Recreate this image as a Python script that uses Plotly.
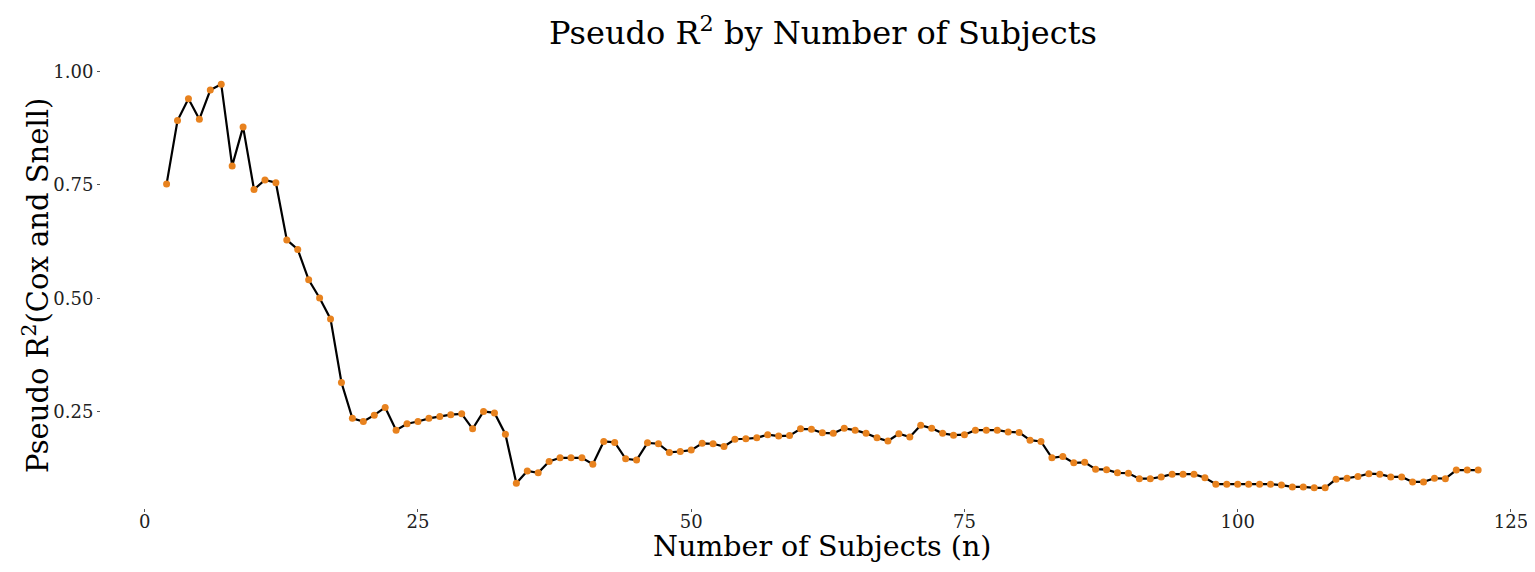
import plotly.graph_objects as go

# number of subjects (n) and pseudo R^2 (Cox and Snell)
n_subjects = list(range(2, 123))
pseudo_r2 = [
    0.752, 0.892, 0.940, 0.895, 0.959, 0.972, 0.792, 0.878, 0.740, 0.761,   # 2-11
    0.755, 0.629, 0.608, 0.541, 0.501, 0.455, 0.315, 0.236, 0.229, 0.243,   # 12-21
    0.260, 0.210, 0.224, 0.229, 0.236, 0.240, 0.244, 0.246, 0.213, 0.251,   # 22-31
    0.248, 0.201, 0.093, 0.120, 0.116, 0.141, 0.149, 0.149, 0.149, 0.135,   # 32-41
    0.185, 0.183, 0.147, 0.144, 0.182, 0.180, 0.161, 0.163, 0.166, 0.181,   # 42-51
    0.180, 0.174, 0.190, 0.191, 0.193, 0.200, 0.197, 0.198, 0.213, 0.212,   # 52-61
    0.204, 0.203, 0.214, 0.210, 0.203, 0.193, 0.186, 0.202, 0.195, 0.221,   # 62-71
    0.214, 0.203, 0.199, 0.200, 0.210, 0.210, 0.210, 0.206, 0.205, 0.188,   # 72-81
    0.185, 0.149, 0.152, 0.138, 0.139, 0.124, 0.123, 0.116, 0.115, 0.103,   # 82-91
    0.103, 0.107, 0.113, 0.113, 0.113, 0.105, 0.091, 0.091, 0.091, 0.091,   # 92-101
    0.091, 0.091, 0.089, 0.085, 0.085, 0.083, 0.083, 0.102, 0.104, 0.108,   # 102-111
    0.114, 0.113, 0.107, 0.107, 0.096, 0.096, 0.104, 0.103, 0.122, 0.122,   # 112-121
    0.122,                                                                  # 122
]
x_ticks = [0, 25, 50, 75, 100, 125]
y_ticks = [0.25, 0.50, 0.75, 1.00]
y_tick_labels = ["0.25", "0.50", "0.75", "1.00"]

FONT = "DejaVu Serif"

fig = go.Figure()
fig.add_trace(go.Scatter(
    x=n_subjects, y=pseudo_r2, mode="lines+markers",
    line=dict(color="black", width=2.2),
    marker=dict(color="#E8821E", size=7),
    showlegend=False,
))

# the page body has an 8px margin, so the figure is sized to fit inside it
fig.update_layout(
    width=1527, height=564,
    paper_bgcolor="white", plot_bgcolor="white",
    margin=dict(l=93, r=0, t=56, b=64),
    font=dict(family=FONT, color="#222"),
    title=dict(text="Pseudo R<sup>2</sup> by Number of Subjects", x=0.5337, xanchor="center",
               y=0.956, yanchor="middle", font=dict(size=32, color="black")),
)
fig.update_xaxes(
    range=[-4, 127.2], tickvals=x_ticks, showgrid=False, zeroline=False, showline=False,
    ticks="outside", ticklen=3, tickcolor="#555", tickwidth=1, ticklabelstandoff=-6,
    tickfont=dict(size=18, color="#222"), automargin=False,
)
fig.update_yaxes(
    range=[0.0385, 1.0165], tickvals=y_ticks, ticktext=y_tick_labels,
    showgrid=False, zeroline=False, showline=False,
    ticks="outside", ticklen=3, tickcolor="#555", tickwidth=1,
    tickfont=dict(size=18, color="#222"), automargin=False,
)

# axis titles
fig.add_annotation(text="Number of Subjects (n)", xref="paper", yref="paper",
                   x=0.5028, y=-0.0856, xanchor="center", yanchor="middle",
                   showarrow=False, font=dict(size=28.5, color="black"))
fig.add_annotation(text="Pseudo R<sup>2</sup>(Cox and Snell)", xref="paper", yref="paper",
                   x=-0.0453, y=0.5, xanchor="center", yanchor="middle", textangle=-90,
                   showarrow=False, font=dict(size=29, color="black"))

fig.write_html("out.html")
